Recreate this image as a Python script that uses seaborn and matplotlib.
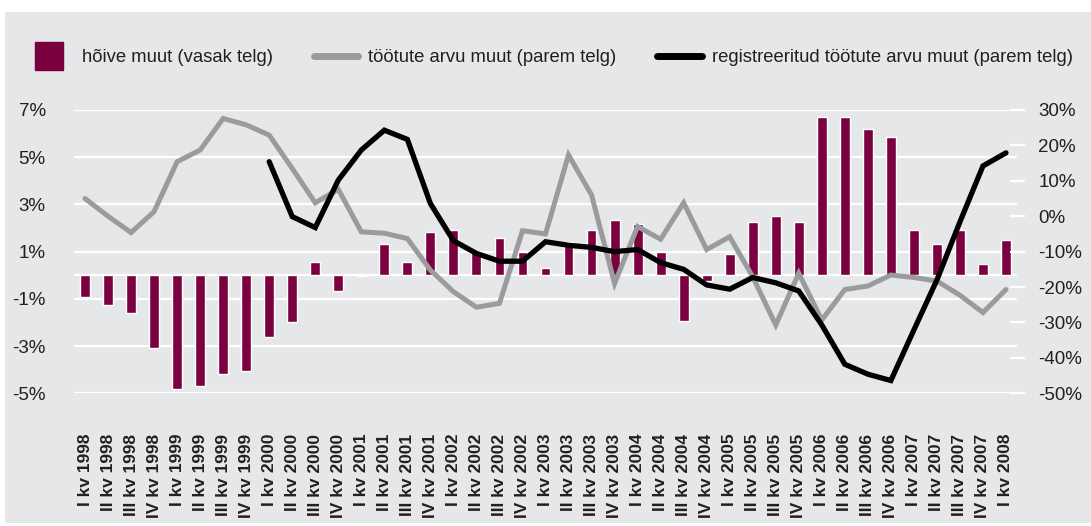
import numpy as np
import pandas as pd
import matplotlib
matplotlib.use("Agg")
import matplotlib.pyplot as plt
import seaborn as sns
from matplotlib.lines import Line2D
from matplotlib.patches import Rectangle

# ---------------- data ----------------
roman = ["I", "II", "III", "IV"]
quarters = [f"{roman[i % 4]} kv {1998 + i // 4}" for i in range(41)]

# employment change, % (left axis)
employment_change = [
    -0.9, -1.25, -1.6, -3.1,
    -4.8, -4.7, -4.2, -4.05,
    -2.6, -2.0, 0.58, -0.67,
    -0.05, 1.33, 0.58, 1.84,
    1.92, 1.0, 1.58, 1.0,
    0.32, 1.42, 1.92, 2.34,
    2.17, 1.0, -1.93, -0.25,
    0.91, 2.26, 2.5, 2.26,
    6.71, 6.71, 6.2, 5.87,
    1.92, 1.33, 1.92, 0.49,
    1.5,
]

# change in number of unemployed, % (right axis)
unemployed_change = [
    5.0, 0.0, -4.6, 1.3,
    15.4, 18.7, 27.6, 25.8,
    22.9, 13.5, 3.8, 7.6,
    -4.4, -4.8, -6.3, -15.2,
    -21.3, -25.7, -24.6, -4.1,
    -5.0, 17.3, 6.0, -19.0,
    -2.9, -6.5, 3.8, -9.4,
    -5.8, -17.1, -30.7, -16.1,
    -29.3, -20.7, -19.7, -16.6,
    -17.3, -18.3, -22.3, -27.2,
    -20.7,
]

# change in number of registered unemployed, % (right axis)
registered_change = [
    None, None, None, None,
    None, None, None, None,
    15.4, -0.1, -3.2, 10.2,
    18.7, 24.3, 21.7, 3.6,
    -6.9, -10.5, -12.7, -12.7,
    -7.2, -8.2, -8.8, -10.0,
    -9.4, -13.1, -15.0, -19.4,
    -20.6, -17.3, -18.8, -21.1,
    -30.7, -41.8, -44.6, -46.4,
    -32.1, -18.0, -1.6, 14.2,
    17.9,
]

left_ticks = [-5, -3, -1, 1, 3, 5, 7]
right_ticks = [-50, -40, -30, -20, -10, 0, 10, 20, 30]

legend_labels = [
    "hõive muut (vasak telg)",
    "töötute arvu muut (parem telg)",
    "registreeritud töötute arvu muut (parem telg)",
]

# ---------------- style ----------------
BG = "#e6e7e8"
MAROON = "#7a0040"
GREY = "#9a9b9d"
TXT = "#231f20"

sns.set_theme(style="white")
plt.rcParams["font.family"] = ["Liberation Sans", "DejaVu Sans"]

fig = plt.figure(figsize=(10.91, 5.26), dpi=100, facecolor="white")
fig.patches.append(Rectangle((5 / 1091, 3 / 526), 1 - 5 / 1091, 511 / 526,
                             transform=fig.transFigure, facecolor=BG,
                             edgecolor="none", zorder=-10))

ax = fig.add_axes([73.5 / 1091, 1 - 393.3 / 526, 944 / 1091, 283.3 / 526])
ax.set_facecolor("none")

df = pd.DataFrame({
    "quarter": quarters,
    "employment": employment_change,
    "unemployed": unemployed_change,
    "registered": pd.array(registered_change, dtype="Float64").astype(float),
    "idx": np.arange(len(quarters)),
})

ax.set_axisbelow(True)
sns.barplot(data=df, x="quarter", y="employment", ax=ax, color=MAROON,
            width=0.43, saturation=1, order=quarters, zorder=2)
ax.axhline(0, color="white", lw=1.6, zorder=1)

ax.set_xlim(-0.5, len(quarters) - 0.5)
ax.set_ylim(-5, 7)
ax.set_yticks(left_ticks)
ax.set_yticklabels([f"{v}%" for v in left_ticks])
ax.yaxis.grid(True, color="white", lw=1.6)
ax.xaxis.grid(False)
for s in ax.spines.values():
    s.set_visible(False)

ax2 = ax.twinx()
ax2.set_facecolor("none")
sns.lineplot(data=df, x="idx", y="unemployed", ax=ax2, color=GREY, lw=3.6,
             solid_joinstyle="miter")
reg = df.dropna(subset=["registered"])
sns.lineplot(data=reg, x="idx", y="registered", ax=ax2, color="black", lw=3.8,
             solid_joinstyle="miter")
ax2.set_ylim(-50, 30)
ax2.set_yticks(right_ticks)
ax2.set_yticklabels([f"{v}%" for v in right_ticks])
for s in ax2.spines.values():
    s.set_visible(False)
ax2.grid(False)
ax2.set_xlabel("")
ax2.set_ylabel("")

ax.set_xlim(-0.5, len(quarters) - 0.5)
ax.set_xticks(np.arange(len(quarters)))
ax.set_xticklabels(quarters, rotation=90, fontweight="bold", fontsize=12.5,
                   color=TXT)
ax.set_xlabel("")
ax.set_ylabel("")
ax.tick_params(axis="x", length=0, pad=29)
ax.tick_params(axis="y", length=0, pad=20, labelsize=13.5, labelcolor=TXT)
ax2.tick_params(axis="y", direction="inout", length=10.8, width=1.6,
                color="white", pad=9.5, labelsize=13.5, labelcolor=TXT)

handles = [
    Line2D([], [], marker="s", ms=20, ls="none", color=MAROON),
    Line2D([], [], color=GREY, lw=5),
    Line2D([], [], color="black", lw=5),
]
fig.legend(handles, legend_labels, loc="center left",
           bbox_to_anchor=(27 / 1091, 1 - 58 / 526), ncol=3, frameon=False,
           fontsize=13.3, handlelength=2.43, handletextpad=0.54,
           columnspacing=2.2, borderpad=0, borderaxespad=0,
           labelcolor=TXT)

fig.savefig("out.png", dpi=100, facecolor="white")
